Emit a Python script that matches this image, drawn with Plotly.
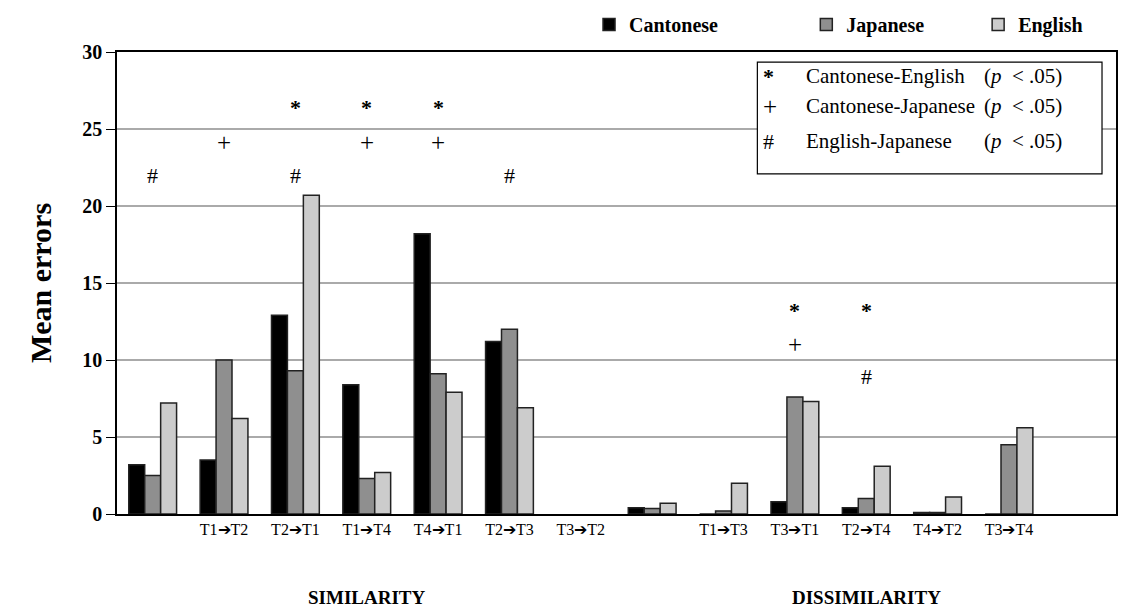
import plotly.graph_objects as go

# Group labels along the x axis (blank slots carry no label)
tick_labels = ["", "T1➔T2", "T2➔T1", "T1➔T4", "T4➔T1", "T2➔T3", "T3➔T2",
               "", "T1➔T3", "T3➔T1", "T2➔T4", "T4➔T2", "T3➔T4", ""]

# Mean errors per language group
cantonese = [3.2, 3.5, 12.9, 8.4, 18.2, 11.2, None, 0.4, 0.0, 0.8, 0.4, 0.1, 0.0, None]
japanese = [2.5, 10.0, 9.3, 2.3, 9.1, 12.0, None, 0.35, 0.2, 7.6, 1.0, 0.1, 4.5, None]
english = [7.2, 6.2, 20.7, 2.7, 7.9, 6.9, None, 0.7, 2.0, 7.3, 3.1, 1.1, 5.6, None]

# Significance marks: (category index, symbol, height on the value axis)
sig_marks = [
    (0, "#", 22.0),
    (1, "+", 24.1),
    (2, "*", 26.4), (2, "#", 22.0),
    (3, "*", 26.4), (3, "+", 24.1),
    (4, "*", 26.4), (4, "+", 24.1),
    (5, "#", 22.0),
    (9, "*", 13.2), (9, "+", 11.0),
    (10, "*", 13.2), (10, "#", 8.9),
]

# Key for the significance symbols
sig_key = [
    ("*", "Cantonese-English", "(<i>p</i>&nbsp; &lt; .05)"),
    ("+", "Cantonese-Japanese", "(<i>p</i>&nbsp; &lt; .05)"),
    ("#", "English-Japanese", "(<i>p</i>&nbsp; &lt; .05)"),
]

section_labels = [(3, "SIMILARITY"), (10, "DISSIMILARITY")]

SERIF = "Liberation Serif"
x_idx = list(range(len(tick_labels)))

series = [
    ("Cantonese", cantonese, "#000000", "legend"),
    ("Japanese", japanese, "#8f8f8f", "legend2"),
    ("English", english, "#cccccc", "legend3"),
]

fig = go.Figure()
for name, vals, color, leg in series:
    fig.add_trace(go.Bar(
        x=x_idx, y=vals, name=name, legend=leg,
        marker=dict(color=color, line=dict(color="#222222", width=1.5)),
    ))

sym_font = {"*": dict(size=22, weight="bold"), "+": dict(size=25), "#": dict(size=22)}

annotations = []
for cat, sym, level in sig_marks:
    annotations.append(dict(
        x=cat, y=level, xref="x", yref="y", text=sym, showarrow=False,
        font=dict(family=SERIF, color="#000000", **sym_font[sym]),
        xanchor="center", yanchor="middle",
    ))

# significance key text, three rows inside a white box
row_y = [0.948, 0.883, 0.807]
for (sym, pair, ptxt), yy in zip(sig_key, row_y):
    annotations.append(dict(x=0.645, y=yy, xref="paper", yref="paper", text=sym,
                            showarrow=False, xanchor="left", yanchor="middle",
                            font=dict(family=SERIF, color="#000000", **sym_font[sym])))
    annotations.append(dict(x=0.688, y=yy, xref="paper", yref="paper", text=pair,
                            showarrow=False, xanchor="left", yanchor="middle",
                            font=dict(family=SERIF, size=21, color="#000000")))
    annotations.append(dict(x=0.866, y=yy, xref="paper", yref="paper", text=ptxt,
                            showarrow=False, xanchor="left", yanchor="middle",
                            font=dict(family=SERIF, size=21, color="#000000")))

for cat, label in section_labels:
    annotations.append(dict(x=cat, y=-0.18, xref="x", yref="paper", text=label,
                            showarrow=False, xanchor="center", yanchor="middle",
                            font=dict(family=SERIF, size=19, color="#000000",
                                      weight="bold")))

legend_font = dict(family=SERIF, size=20, color="#000000", weight="bold")
legend_common = dict(orientation="h", yanchor="top", y=1.102, xanchor="left",
                     bgcolor="rgba(0,0,0,0)", font=legend_font, itemwidth=30)

fig.update_layout(
    width=1121, height=614,
    margin=dict(l=117, r=3, t=52, b=100),
    paper_bgcolor="white", plot_bgcolor="white",
    barmode="group", bargap=0.33, bargroupgap=0.0,
    showlegend=True,
    legend=dict(x=0.4725, **legend_common),
    legend2=dict(x=0.690, **legend_common),
    legend3=dict(x=0.862, **legend_common),
    annotations=annotations,
    shapes=[dict(type="rect", xref="paper", yref="paper",
                 x0=0.641, x1=0.986, y0=0.736, y1=0.978,
                 line=dict(color="#000000", width=1.2), fillcolor="white",
                 layer="above")],
    xaxis=dict(
        range=[-0.5, len(tick_labels) - 0.5],
        tickmode="array", tickvals=x_idx, ticktext=tick_labels,
        showgrid=False, ticks="", showline=True, linecolor="#000000",
        linewidth=1.5, mirror=True,
        tickfont=dict(family=SERIF, size=16, color="#000000"),
        zeroline=False,
    ),
    yaxis=dict(
        range=[0, 30], tickmode="linear", dtick=5,
        showgrid=True, gridcolor="#aaaaaa", gridwidth=1.5,
        ticks="outside", ticklen=9, tickcolor="#000000", tickwidth=1.2,
        showline=True, linecolor="#000000", linewidth=1.5, mirror=True,
        zeroline=False,
        tickfont=dict(family=SERIF, size=20, color="#000000", weight="bold"),
        title=dict(text="Mean errors", standoff=22,
                   font=dict(family=SERIF, size=30, color="#000000",
                             weight="bold")),
    ),
)

fig.write_html("out.html")
